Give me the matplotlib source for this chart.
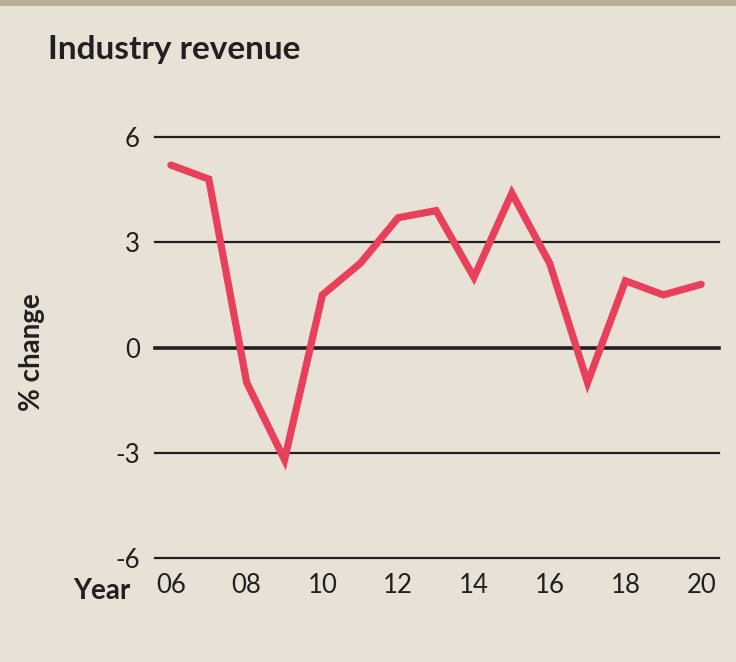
import matplotlib
matplotlib.use("Agg")
import matplotlib.pyplot as plt

years = [2006, 2007, 2008, 2009, 2010, 2011, 2012, 2013, 2014, 2015, 2016, 2017, 2018, 2019, 2020]
revenue_change = [5.2, 4.8, -1.0, -3.2, 1.5, 2.4, 3.7, 3.9, 2.0, 4.4, 2.4, -1.0, 1.9, 1.5, 1.8]
yticks = [-6, -3, 0, 3, 6]
xticks = [2006, 2008, 2010, 2012, 2014, 2016, 2018, 2020]
xtick_labels = ["06", "08", "10", "12", "14", "16", "18", "20"]

bg = "#e8e1d5"
ink = "#231f20"
red = "#e8405a"
font = "Lato"

W, H = 736, 662
fig = plt.figure(figsize=(W / 100, H / 100), dpi=100, facecolor=bg)

# top bar
fig.add_artist(plt.Rectangle((0, 1 - 6 / H), 1, 6 / H, transform=fig.transFigure,
                             color="#b8af96", lw=0))

ax = fig.add_axes([155 / W, 1 - 558 / H, (719 - 155) / W, (558 - 137) / H])
ax.set_facecolor(bg)
ax.set_xlim(2005.58, 2020.47)
ax.set_ylim(-6, 6)

for v in yticks:
    ax.axhline(v, color=ink, lw=2.6 if v == 0 else 1.6, zorder=1, clip_on=False)

ax.plot(years, revenue_change, color=red, lw=5.2, solid_joinstyle="miter",
        solid_capstyle="round", zorder=3, clip_on=False)

for s in ax.spines.values():
    s.set_visible(False)
ax.set_yticks(yticks)
ax.set_yticklabels([str(v) for v in yticks], fontsize=18.5, color=ink, family=font)
ax.set_xticks(xticks)
ax.set_xticklabels(xtick_labels, fontsize=18.5, color=ink, family=font)
ax.tick_params(axis="y", length=0, pad=11)
ax.tick_params(axis="x", length=0, pad=11)

fig.text(130 / W, 1 - 591 / H, "Year", fontsize=20, fontweight="bold", color=ink,
         family=font, ha="right", va="center")
fig.text(48 / W, 1 - 50 / H, "Industry revenue", fontsize=24, fontweight="bold", color=ink,
         family=font, ha="left", va="center")
fig.text(32 / W, 1 - 352 / H, "% change", fontsize=20, fontweight="bold", color=ink,
         family=font, ha="center", va="center", rotation=90)

fig.savefig("out.png", dpi=100, facecolor=bg)
